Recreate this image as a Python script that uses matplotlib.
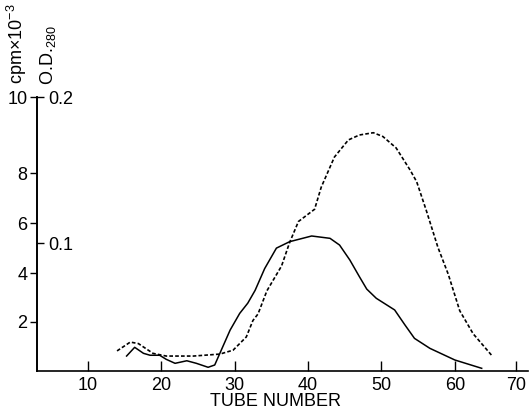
import numpy as np
import matplotlib
matplotlib.use("Agg")
import matplotlib.pyplot as plt

plt.rcParams['font.family'] = ['Liberation Sans', 'DejaVu Sans']
plt.rcParams['mathtext.fontset'] = 'custom'
plt.rcParams['mathtext.rm'] = 'Liberation Sans'

# Radioactivity (dashed), cpm x 10^-3
cpm_tube = [14.0, 15.8, 16.9, 18.9, 20.7, 24.4, 28.0, 29.8, 31.6, 32.5, 33.2, 34.4,
            36.4, 37.5, 38.7, 40.9, 41.8, 43.6, 45.5, 47.0, 48.9, 50.2, 52.0, 53.9,
            54.8, 56.1, 57.7, 59.1, 60.8, 63.0, 66.0]
cpm_vals = [0.82, 1.18, 1.12, 0.72, 0.61, 0.61, 0.69, 0.85, 1.39, 2.06, 2.33, 3.27,
            4.28, 5.22, 6.06, 6.55, 7.43, 8.42, 8.87, 9.00, 9.06, 8.96, 8.66, 8.08,
            7.65, 6.51, 5.02, 3.95, 2.46, 1.52, 0.65]

# Optical density at 280 nm (solid)
od_tube = [15.3, 16.4, 17.6, 18.5, 19.8, 20.7, 21.9, 23.5, 24.8, 26.4, 27.3, 28.0,
           29.4, 30.7, 31.8, 32.8, 34.1, 35.7, 37.5, 40.5, 43.0, 44.3, 45.7, 47.0,
           48.0, 49.3, 51.8, 53.2, 54.5, 56.6, 60.0, 64.4]
od_vals = [0.0117, 0.0185, 0.0138, 0.0123, 0.0123, 0.0091, 0.0060, 0.0080, 0.0060,
           0.0029, 0.0047, 0.0138, 0.032, 0.045, 0.053, 0.063, 0.080, 0.096, 0.1009,
           0.1048, 0.1032, 0.0984, 0.0867, 0.0737, 0.064, 0.0568, 0.0477, 0.036,
           0.0255, 0.0177, 0.0086, 0.0021]

x_ticks = [10, 20, 30, 40, 50, 60, 70]
cpm_ticks = [2, 4, 6, 8, 10]
od_ticks = [0.1, 0.2]

# Hand-drawn axis graduations (piecewise linear scales)
xk_v = [-100, 0, 60, 80, 200]
xk_p = [-735, 0, 441, 563, 1295]
ck_v = [-10, 0, 2, 4, 6, 8, 10, 20]
ck_p = [-247.5, 0, 49, 98, 148, 198, 274, 654]
ok_v = [-1, 0, 0.1, 0.2, 1]
ok_p = [-1280, 0, 128, 274, 1442]

def mk(kv, kp):
    fwd = lambda v: np.interp(v, kv, kp)
    inv = lambda p: np.interp(p, kp, kv)
    return fwd, inv

fig = plt.figure(figsize=(5.29, 4.13), dpi=100)
ax = fig.add_axes([37/529, 1-371/413, (528-37)/529, (371-97)/413])
ax.set_xscale('function', functions=mk(xk_v, xk_p))
ax.set_yscale('function', functions=mk(ck_v, ck_p))
ax.set_xlim(3.1, 72.0)
ax.set_ylim(0, 10)

ax.plot(cpm_tube, cpm_vals, color='black', lw=1.2, ls=(0, (2.2, 1.3)))

ax2 = ax.twinx()
ax2.set_yscale('function', functions=mk(ok_v, ok_p))
ax2.set_ylim(0, 0.2)
ax2.plot(od_tube, od_vals, color='black', lw=1.1)

for a in (ax, ax2):
    a.spines['top'].set_visible(False)
ax.spines['right'].set_visible(False)
ax2.spines['left'].set_visible(False)
ax2.spines['bottom'].set_visible(False)
ax2.spines['right'].set_position(('axes', 0))
ax2.spines['right'].set_linewidth(1.2)
ax.spines['left'].set_linewidth(1.2)
ax.spines['bottom'].set_linewidth(1.2)

ax.set_xticks(x_ticks)
ax.set_xticklabels([str(t) for t in x_ticks])
ax.set_yticks(cpm_ticks)
ax.set_yticklabels([str(t) for t in cpm_ticks])
ax2.set_yticks(od_ticks)
ax2.set_yticklabels([str(t) for t in od_ticks])
ax.minorticks_off()
ax2.minorticks_off()

ax.tick_params(axis='x', direction='in', length=7, width=1, labelsize=13, pad=4)
ax.tick_params(axis='y', direction='out', length=5, width=1, labelsize=13, pad=2)
ax2.tick_params(axis='y', direction='out', length=5, width=1, labelsize=13, pad=3)

fig.text(275/529, 1-402/413, 'TUBE NUMBER', ha='center', va='center', fontsize=13)
fig.text(17/529, 1-44/413, r'cpm$\times$10$^{\mathregular{-3}}$', rotation=90,
         ha='center', va='center', fontsize=13)
fig.text(48/529, 1-55/413, r'O.D.$_{\mathregular{280}}$', rotation=90,
         ha='center', va='center', fontsize=13)

fig.savefig('out.png', dpi=100)
